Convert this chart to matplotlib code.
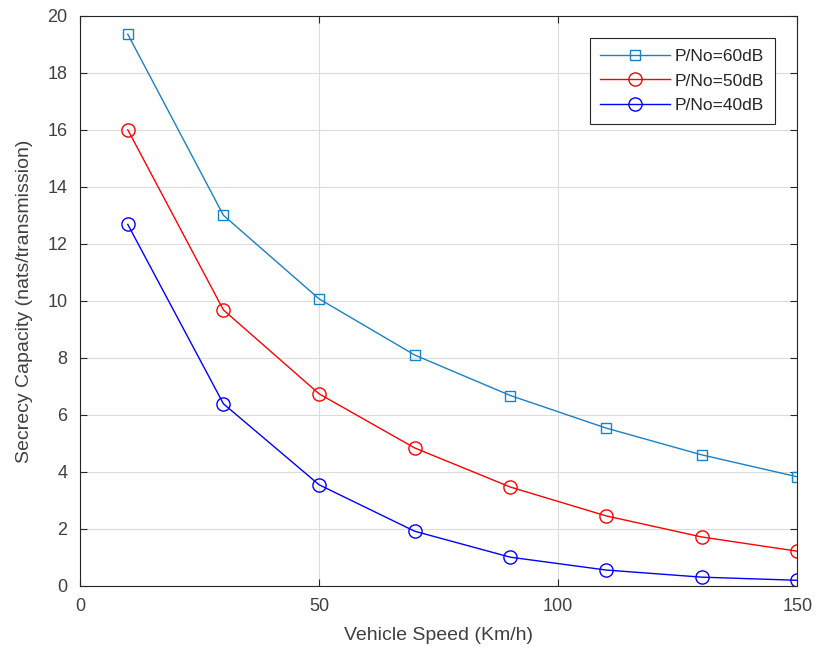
import numpy as np
import matplotlib.pyplot as plt

plt.rcParams['font.family'] = ['Liberation Sans', 'DejaVu Sans']

speed = [10, 30, 50, 70, 90, 110, 130, 150]
cap_60 = [19.35, 13.0, 10.07, 8.1, 6.68, 5.54, 4.6, 3.83]
cap_50 = [16.0, 9.68, 6.74, 4.84, 3.47, 2.46, 1.72, 1.22]
cap_40 = [12.68, 6.39, 3.55, 1.92, 1.01, 0.56, 0.31, 0.2]
labels = ['P/No=60dB', 'P/No=50dB', 'P/No=40dB']

fig = plt.figure(figsize=(8.16, 6.54), dpi=100)
ax = fig.add_axes([0.098, 0.104, 0.879, 0.872])

ax.plot(speed, cap_60, color=(0.1, 0.5, 0.78), marker='s', markersize=7,
        markerfacecolor='none', linewidth=1.0, label=labels[0])
ax.plot(speed, cap_50, color='red', marker='o', markersize=9.5,
        markerfacecolor='none', linewidth=1.0, label=labels[1])
ax.plot(speed, cap_40, color='blue', marker='o', markersize=9.5,
        markerfacecolor='none', linewidth=1.0, label=labels[2])

ax.set_xlim(0, 150)
ax.set_ylim(0, 20)
ax.set_xticks([0, 50, 100, 150])
ax.set_yticks(np.arange(0, 21, 2))
ax.grid(True, color='#dcdcdc', linewidth=0.8)
ax.set_axisbelow(True)

txt = '#404040'
for s in ax.spines.values():
    s.set_color('#262626')
    s.set_linewidth(0.8)
ax.tick_params(direction='in', top=True, right=True, colors='#262626',
               labelcolor=txt, labelsize=13, length=5, width=0.8)
ax.tick_params(axis='x', pad=9)
ax.tick_params(axis='y', pad=9)
ax.set_xlabel('Vehicle Speed (Km/h)', fontsize=14, color=txt, labelpad=8)
ax.set_ylabel('Secrecy Capacity (nats/transmission)', fontsize=14, color=txt,
              labelpad=10)

leg = ax.legend(loc='upper right', fontsize=12.5, fancybox=False, framealpha=1,
                edgecolor='#262626', borderaxespad=1.3, handlelength=4,
                labelspacing=0.55, borderpad=0.6, handletextpad=0.3)
leg.get_frame().set_linewidth(0.8)
for t in leg.get_texts():
    t.set_color('#262626')

plt.savefig('out.png', dpi=100)
